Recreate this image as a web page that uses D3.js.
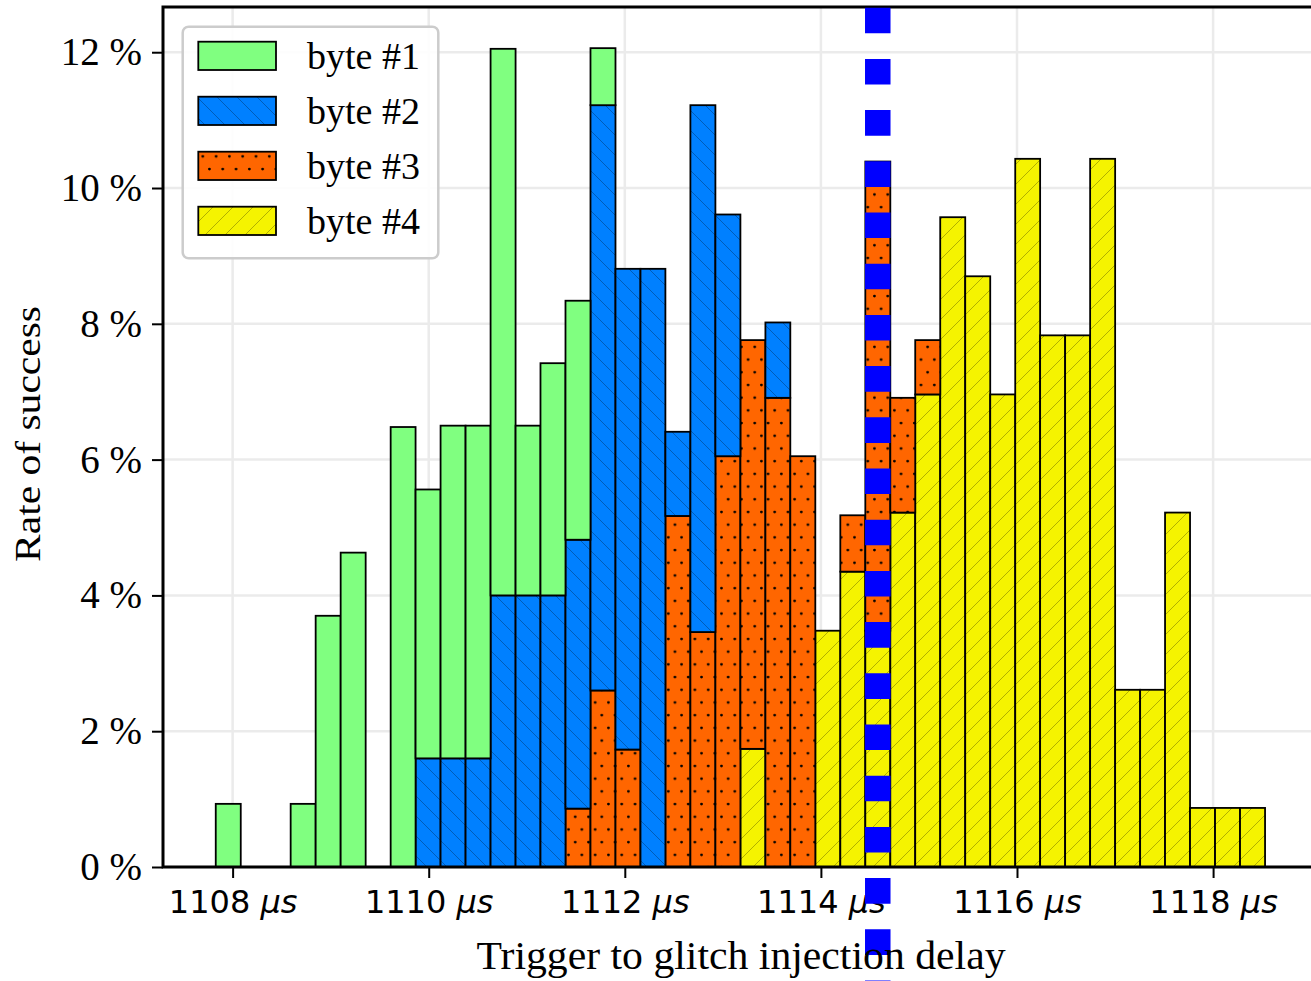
<!DOCTYPE html>
<html>
<head>
<meta charset="utf-8">
<script src="https://cdn.jsdelivr.net/npm/d3@7"></script>
<style>
  html, body { margin: 0; padding: 0; background: #fff; }
  svg { display: block; }
</style>
</head>
<body>
<div id="chart"></div>
<script>
// Histogram bin edges (µs) — 42 bins
const binEdges = [
  1107.828, 1108.083, 1108.338, 1108.592, 1108.847, 1109.102, 1109.357, 1109.612,
  1109.866, 1110.121, 1110.376, 1110.631, 1110.886, 1111.140, 1111.395, 1111.650,
  1111.905, 1112.160, 1112.414, 1112.669, 1112.924, 1113.179, 1113.434, 1113.688,
  1113.943, 1114.198, 1114.453, 1114.708, 1114.962, 1115.217, 1115.472, 1115.727,
  1115.982, 1116.236, 1116.491, 1116.746, 1117.001, 1117.256, 1117.510, 1117.765,
  1118.020, 1118.275, 1118.530
];

// Rate of success (%) per bin, one array per byte
const byte1 = [
  0.93, 0, 0, 0.93, 3.70, 4.63, 0, 6.48, 3.96, 4.90, 4.90, 8.05, 2.50, 3.42, 3.52, 0.84,
  0, 0, 0, 0, 0, 0, 0, 0, 0, 0, 0, 0, 0, 0, 0, 0, 0, 0, 0, 0, 0, 0, 0, 0, 0, 0
];
const byte2 = [
  0, 0, 0, 0, 0, 0, 0, 0, 1.60, 1.60, 1.60, 4.00, 4.00, 4.00, 3.96, 8.62,
  7.08, 8.81, 1.24, 7.76, 3.56, 0, 1.11, 0, 0, 0, 0, 0, 0, 0, 0, 0, 0, 0, 0, 0, 0, 0, 0, 0, 0, 0
];
const byte3 = [
  0, 0, 0, 0, 0, 0, 0, 0, 0, 0, 0, 0, 0, 0, 0.86, 2.60,
  1.73, 0, 5.17, 3.46, 6.05, 6.02, 6.91, 6.05, 0, 0.83, 6.91, 1.69, 0.80, 0, 0, 0,
  0, 0, 0, 0, 0, 0, 0, 0, 0, 0
];
const byte4 = [
  0, 0, 0, 0, 0, 0, 0, 0, 0, 0, 0, 0, 0, 0, 0, 0,
  0, 0, 0, 0, 0, 1.74, 0, 0, 3.48, 4.35, 3.48, 5.22, 6.96, 9.57, 8.70, 6.96,
  10.43, 7.83, 7.83, 10.43, 2.61, 2.61, 5.22, 0.87, 0.87, 0.87
];

const seriesLabels = ['byte #1', 'byte #2', 'byte #3', 'byte #4'];
const xTicks = [1108, 1110, 1112, 1114, 1116, 1118];
const yTicks = [0, 2, 4, 6, 8, 10, 12];
const glitchDelay = 1114.58;   // dashed marker
const xLabel = 'Trigger to glitch injection delay';
const yLabel = 'Rate of success';

// ---------------------------------------------------------------------
const W = 1311, H = 981;
const plot = { left: 163, right: 1318, top: 7, bottom: 867 };
const SERIF = '"Liberation Serif", "Times New Roman", serif';
const SANS = '"DejaVu Sans", sans-serif';

const x = d3.scaleLinear().domain([1107.29, 1119.07]).range([plot.left, plot.right]);
const y = d3.scaleLinear().domain([0, 12.666]).range([plot.bottom, plot.top]);

const svg = d3.select('#chart').append('svg')
  .attr('width', W).attr('height', H)
  .attr('viewBox', `0 0 ${W} ${H}`);

svg.append('rect').attr('width', W).attr('height', H).attr('fill', '#fff');

// Fill patterns (matplotlib-ish hatches)
const defs = svg.append('defs');
const FILL = { b1: '#80ff80', b2: '#0080ff', b3: '#ff6600', b4: '#f5f300' };

function diagPattern(id, bg, backslash) {
  const p = defs.append('pattern').attr('id', id)
    .attr('patternUnits', 'userSpaceOnUse').attr('width', 20).attr('height', 20);
  p.append('rect').attr('width', 20).attr('height', 20).attr('fill', bg);
  const d = backslash
    ? 'M-5,-5 L25,25 M-5,15 L5,25 M15,-5 L25,5'
    : 'M-5,25 L25,-5 M-5,5 L5,-5 M15,25 L25,15';
  p.append('path').attr('d', d).attr('stroke', 'rgba(0,0,0,0.28)').attr('stroke-width', 1);
}
diagPattern('hatch-b2', FILL.b2, true);
diagPattern('hatch-b4', FILL.b4, false);

const dots = defs.append('pattern').attr('id', 'hatch-b3')
  .attr('patternUnits', 'userSpaceOnUse').attr('width', 13.3).attr('height', 25.4);
dots.append('rect').attr('width', 13.3).attr('height', 25.4).attr('fill', FILL.b3);
dots.append('circle').attr('cx', 3.3).attr('cy', 4).attr('r', 1.4).attr('fill', '#000');
dots.append('circle').attr('cx', 9.95).attr('cy', 16.7).attr('r', 1.4).attr('fill', '#000');

const PAINT = { b1: FILL.b1, b2: 'url(#hatch-b2)', b3: 'url(#hatch-b3)', b4: 'url(#hatch-b4)' };

// Grid
const grid = svg.append('g').attr('class', 'grid');
grid.selectAll('.gx').data(xTicks).enter().append('line')
  .attr('x1', d => x(d)).attr('x2', d => x(d))
  .attr('y1', plot.top).attr('y2', plot.bottom)
  .attr('stroke', '#ebebeb').attr('stroke-width', 2.5);
grid.selectAll('.gy').data(yTicks).enter().append('line')
  .attr('x1', plot.left).attr('x2', plot.right)
  .attr('y1', d => y(d)).attr('y2', d => y(d))
  .attr('stroke', '#ebebeb').attr('stroke-width', 2.5);

// Stacked bars: byte #4 at the bottom, byte #1 on top
const rows = binEdges.slice(0, -1).map((e, i) => ({
  x0: e, x1: binEdges[i + 1],
  b1: byte1[i], b2: byte2[i], b3: byte3[i], b4: byte4[i]
}));
const stack = d3.stack().keys(['b4', 'b3', 'b2', 'b1'])(rows);

const bars = svg.append('g').attr('class', 'bars');
stack.forEach(layer => {
  bars.append('g').selectAll('rect')
    .data(layer.filter(d => d[1] - d[0] > 0))
    .enter().append('rect')
    .attr('x', d => x(d.data.x0))
    .attr('width', d => x(d.data.x1) - x(d.data.x0))
    .attr('y', d => y(d[1]))
    .attr('height', d => y(d[0]) - y(d[1]))
    .attr('fill', PAINT[layer.key])
    .attr('stroke', '#000')
    .attr('stroke-width', 1.8);
});

// Axes
const yAxis = svg.append('g').attr('transform', `translate(${plot.left},0)`)
  .call(d3.axisLeft(y).tickValues(yTicks).tickSize(11).tickSizeOuter(0).tickPadding(10)
    .tickFormat(d => `${d} %`));
const xAxis = svg.append('g').attr('transform', `translate(0,${plot.bottom})`)
  .call(d3.axisBottom(x).tickValues(xTicks).tickSize(11).tickSizeOuter(0).tickPadding(12.6));

[yAxis, xAxis].forEach(g => {
  g.select('.domain').remove();
  g.selectAll('.tick line').attr('stroke', '#000').attr('stroke-width', 2);
});
yAxis.selectAll('.tick text')
  .attr('font-family', SERIF).attr('font-size', 39).attr('fill', '#000');
xAxis.selectAll('.tick text')
  .attr('font-family', SANS).attr('font-size', 32).attr('fill', '#000')
  .each(function (d) {
    const t = d3.select(this).text(null);
    t.append('tspan').text(`${d} `);
    t.append('tspan').attr('font-style', 'italic').text('μs');
  });

// Spines
const spines = svg.append('g').attr('stroke', '#000').attr('stroke-width', 3).attr('fill', 'none');
spines.append('rect')
  .attr('x', plot.left).attr('y', plot.top)
  .attr('width', plot.right - plot.left).attr('height', plot.bottom - plot.top);

// Glitch marker: thick blue dashed vertical line, runs past the axes
svg.append('line')
  .attr('x1', x(glitchDelay)).attr('x2', x(glitchDelay))
  .attr('y1', plot.top + 0.7).attr('y2', H + 30)
  .attr('stroke', '#0000ff').attr('stroke-width', 25.5)
  .attr('stroke-dasharray', '25.6 25.6');

// Axis labels
svg.append('text')
  .attr('transform', `translate(${(475 + 1007) / 2},969) scale(1.03,1)`)
  .attr('text-anchor', 'middle')
  .attr('font-family', SERIF).attr('font-size', 40.5).attr('fill', '#000')
  .text(xLabel);

svg.append('text')
  .attr('transform', `translate(39.5,434) rotate(-90) scale(1.17,1)`)
  .attr('text-anchor', 'middle')
  .attr('font-family', SERIF).attr('font-size', 35.5).attr('fill', '#000')
  .text(yLabel);

// Legend
const legend = svg.append('g').attr('class', 'legend');
legend.append('rect')
  .attr('x', 182.7).attr('y', 26.7).attr('width', 255.6).attr('height', 231.6)
  .attr('rx', 6).attr('fill', '#fff').attr('fill-opacity', 0.9)
  .attr('stroke', '#cccccc').attr('stroke-width', 2.5);
const legendKeys = ['b1', 'b2', 'b3', 'b4'];
legendKeys.forEach((k, i) => {
  const top = 41.7 + i * 55;
  legend.append('rect')
    .attr('x', 198.3).attr('y', top).attr('width', 77.7).attr('height', 28.3)
    .attr('fill', PAINT[k]).attr('stroke', '#000').attr('stroke-width', 1.8);
  legend.append('text')
    .attr('x', 307).attr('y', top + 27.6)
    .attr('font-family', SERIF).attr('font-size', 38).attr('fill', '#000')
    .text(seriesLabels[i]);
});
</script>
</body>
</html>
